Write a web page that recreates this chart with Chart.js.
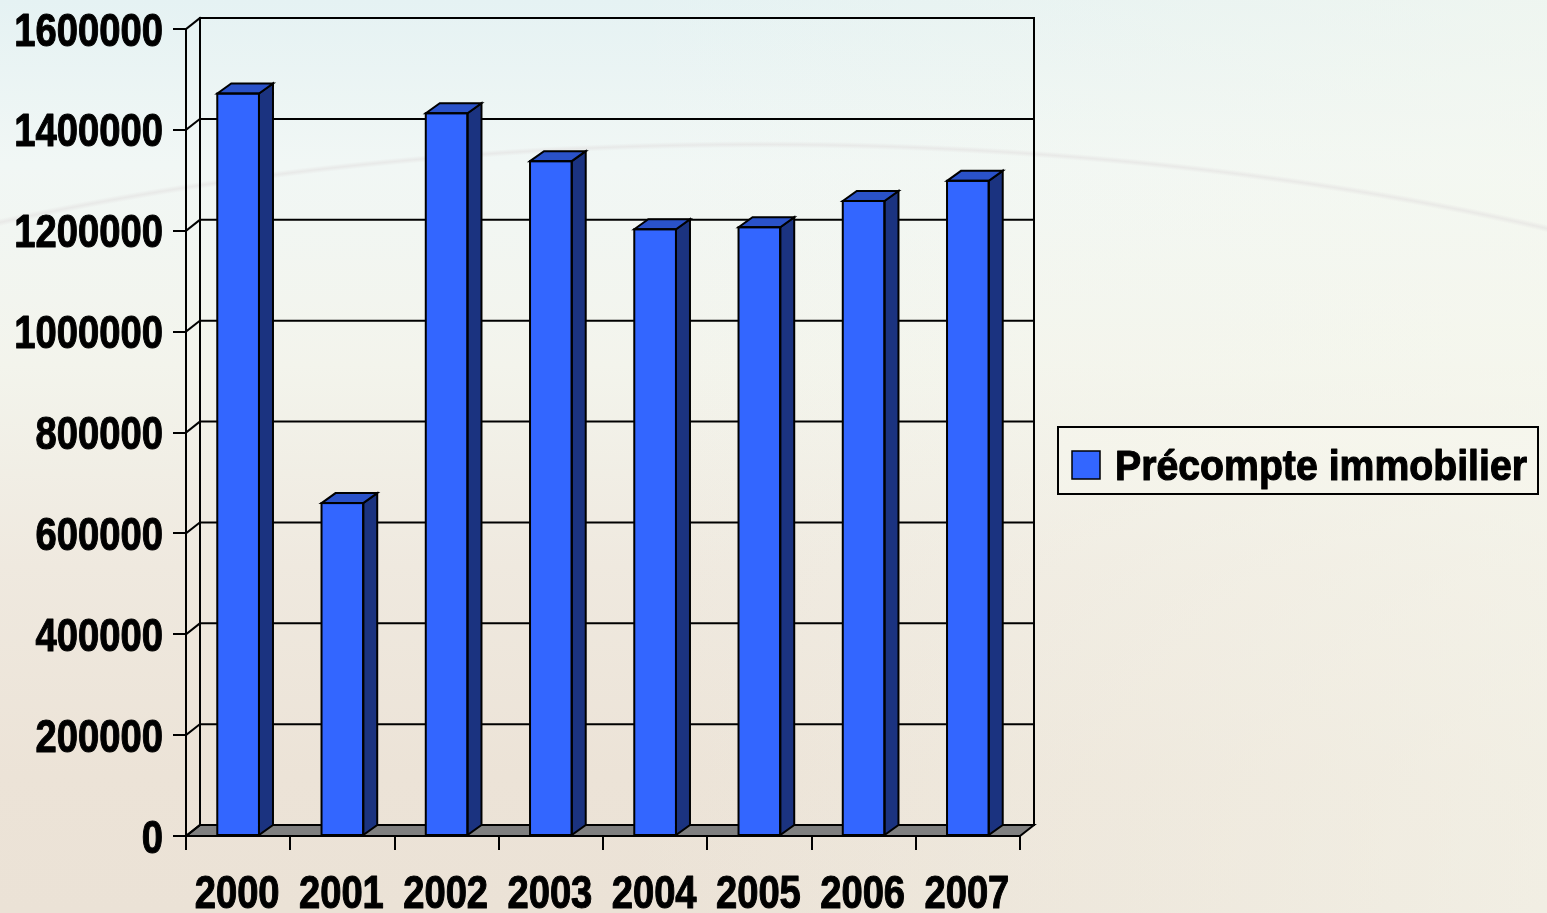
<!DOCTYPE html>
<html>
<head>
<meta charset="utf-8">
<script src="https://cdn.jsdelivr.net/npm/chart.js@4.4.0/dist/chart.umd.min.js"></script>
<style>
  html, body { margin: 0; padding: 0; width: 1547px; height: 913px; overflow: hidden; }
  body {
    background:
      radial-gradient(ellipse 1500px 560px at 760px 700px, rgba(255,255,255,0) 98.6%, rgba(225,222,222,0.55) 99.2%, rgba(253,253,248,0.0) 99.8%),
      linear-gradient(to right, rgba(0,0,0,0) 40%, rgba(246,248,238,0.55) 100%),
      linear-gradient(to bottom, #e5f2f3 0%, #f1f7f5 18%, #f3f4ec 40%, #efe9df 62%, #ece3d7 85%, #ebe2d6 100%);
  }
  canvas { display: block; }
</style>
</head>
<body>
<canvas id="c" width="1547" height="913"></canvas>
<script>
const categories = ['2000', '2001', '2002', '2003', '2004', '2005', '2006', '2007'];
const seriesName = 'Précompte immobilier';
const values = [1472000, 660000, 1433000, 1338000, 1203000, 1207000, 1259000, 1299000];
const yTicks = [0, 200000, 400000, 600000, 800000, 1000000, 1200000, 1400000, 1600000];

const FONT = "'Liberation Sans', Arial, sans-serif";
const FRONT = '#3366ff', SIDE = '#1b3380', TOP = '#2a52c9';
const WDX = 14, WDY = -11;   // wall / floor depth
const BDX = 14, BDY = -10;   // bar depth
const SQUEEZE = 0.83;        // narrow-font look

function seg(ctx, x1, y1, x2, y2) { ctx.beginPath(); ctx.moveTo(x1, y1); ctx.lineTo(x2, y2); ctx.stroke(); }

function narrowText(ctx, text, x, y, align, sx) {
  ctx.save();
  ctx.translate(x, y);
  ctx.scale(sx, 1);
  ctx.textAlign = align;
  ctx.textBaseline = 'alphabetic';
  ctx.strokeStyle = ctx.fillStyle;
  ctx.lineWidth = 1.1;
  ctx.lineJoin = 'round';
  ctx.strokeText(text, 0, 0);
  ctx.fillText(text, 0, 0);
  ctx.restore();
}

const fake3d = {
  id: 'fake3d',
  beforeDatasetsDraw(chart) {
    const { ctx, chartArea: a, scales: { y } } = chart;
    ctx.save();
    ctx.strokeStyle = '#000'; ctx.lineWidth = 2; ctx.lineCap = 'square';
    ctx.fillStyle = '#808080';
    ctx.beginPath();
    ctx.moveTo(a.left, a.bottom); ctx.lineTo(a.left + WDX, a.bottom + WDY);
    ctx.lineTo(a.right + WDX, a.bottom + WDY); ctx.lineTo(a.right, a.bottom); ctx.closePath();
    ctx.fill(); ctx.stroke();
    yTicks.forEach(v => {
      const py = y.getPixelForValue(v);
      if (v > 0) seg(ctx, a.left + WDX, py + WDY, a.right + WDX, py + WDY);
      seg(ctx, a.left, py, a.left + WDX, py + WDY);
    });
    seg(ctx, a.left + WDX, a.top + WDY, a.left + WDX, a.bottom + WDY);
    seg(ctx, a.right + WDX, a.top + WDY, a.right + WDX, a.bottom + WDY);
    ctx.restore();
  },
  afterDatasetsDraw(chart) {
    const { ctx } = chart;
    const meta = chart.getDatasetMeta(0);
    ctx.save();
    ctx.strokeStyle = '#000'; ctx.lineWidth = 2; ctx.lineJoin = 'miter';
    meta.data.forEach(bar => {
      const { x, y, base, width } = bar.getProps(['x', 'y', 'base', 'width'], true);
      const l = x - width / 2, r = x + width / 2;
      ctx.fillStyle = SIDE;
      ctx.beginPath();
      ctx.moveTo(r, y); ctx.lineTo(r + BDX, y + BDY); ctx.lineTo(r + BDX, base + BDY); ctx.lineTo(r, base); ctx.closePath();
      ctx.fill(); ctx.stroke();
      ctx.fillStyle = TOP;
      ctx.beginPath();
      ctx.moveTo(l, y); ctx.lineTo(l + BDX, y + BDY); ctx.lineTo(r + BDX, y + BDY); ctx.lineTo(r, y); ctx.closePath();
      ctx.fill(); ctx.stroke();
      ctx.strokeRect(l, y, width, base - y);
    });
    ctx.restore();
  },
  afterDraw(chart) {
    const { ctx, scales: { x, y } } = chart;
    ctx.save();
    ctx.fillStyle = '#000';
    ctx.font = 'bold 46px ' + FONT;
    y.ticks.forEach(t => {
      const py = y.getPixelForValue(t.value);
      narrowText(ctx, String(t.value), 163, py + 16.5, 'right', SQUEEZE);
    });
    categories.forEach((c, i) => {
      const px = x.getPixelForValue(i);
      narrowText(ctx, c, px - 1, 908, 'center', SQUEEZE);
    });
    ctx.fillStyle = 'rgba(250,250,242,0.35)';
    ctx.fillRect(1058, 427, 480, 67);
    ctx.strokeStyle = '#000'; ctx.lineWidth = 2;
    ctx.strokeRect(1058, 427, 480, 67);
    ctx.fillStyle = FRONT;
    ctx.fillRect(1072, 451, 28, 28);
    ctx.lineWidth = 1.5;
    ctx.strokeRect(1072, 451, 28, 28);
    ctx.fillStyle = '#000';
    ctx.font = 'bold 42px ' + FONT;
    const w = ctx.measureText(seriesName).width;
    narrowText(ctx, seriesName, 1115, 480, 'left', 412 / w);
    ctx.restore();
  }
};

new Chart(document.getElementById('c'), {
  type: 'bar',
  data: {
    labels: categories,
    datasets: [{
      label: seriesName,
      data: values,
      backgroundColor: FRONT,
      borderWidth: 0,
      barPercentage: 0.4,
      categoryPercentage: 1.0
    }]
  },
  options: {
    responsive: false,
    animation: false,
    devicePixelRatio: 1,
    layout: { padding: { left: 0, right: 527, top: 29, bottom: 0 } },
    plugins: { legend: { display: false }, tooltip: { enabled: false } },
    scales: {
      x: {
        offset: true,
        afterFit(s) { s.height = 77; s.paddingLeft = 0; s.paddingRight = 0; },
        grid: { offset: true, drawOnChartArea: false, drawTicks: true, tickLength: 14, color: '#000', lineWidth: 2 },
        border: { display: true, color: '#000', width: 2 },
        ticks: { color: 'rgba(0,0,0,0)', font: { family: FONT, size: 46, weight: 'bold' }, padding: 8, maxRotation: 0, autoSkip: false }
      },
      y: {
        min: 0, max: 1600000,
        afterFit(s) { s.width = 186; s.paddingTop = 0; s.paddingBottom = 0; },
        afterBuildTicks(s) { s.ticks = yTicks.map(v => ({ value: v })); },
        grid: { drawOnChartArea: false, drawTicks: true, tickLength: 13, color: '#000', lineWidth: 2 },
        border: { display: true, color: '#000', width: 2 },
        ticks: { color: 'rgba(0,0,0,0)', font: { family: FONT, size: 46, weight: 'bold' }, padding: 10, callback: v => String(v) }
      }
    }
  },
  plugins: [fake3d]
});
</script>
</body>
</html>
